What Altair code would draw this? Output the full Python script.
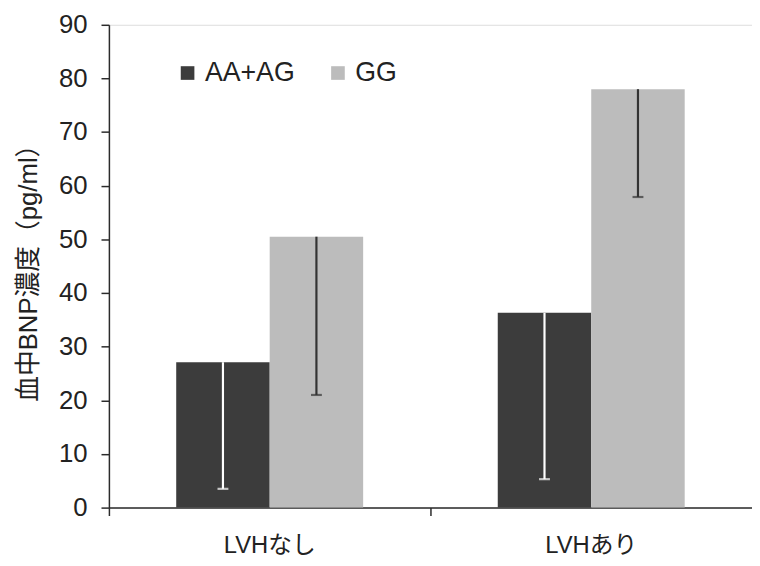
import altair as alt
import pandas as pd

categories = ["LVHなし", "LVHあり"]
groups = ["AA+AG", "GG"]
mean_aa_ag = [27.1, 36.3]
mean_gg = [50.5, 78.0]
lower_aa_ag = [3.5, 5.3]
lower_gg = [21.0, 57.9]

rows = []
for i, c in enumerate(categories):
    rows.append({"cat": c, "group": groups[0], "value": mean_aa_ag[i], "lower": lower_aa_ag[i]})
    rows.append({"cat": c, "group": groups[1], "value": mean_gg[i], "lower": lower_gg[i]})
df = pd.DataFrame(rows)

FONT = "Liberation Sans, Arial, Noto Sans CJK JP"
AXIS_COLOR = "#2b2b2b"

x = alt.X(
    "cat:N",
    sort=categories,
    title=None,
    scale=alt.Scale(paddingInner=0, paddingOuter=0),
    axis=alt.Axis(
        labelAngle=0, labelFontSize=24, labelColor="#222222", labelFont=FONT,
        tickSize=8, tickColor=AXIS_COLOR, domainColor=AXIS_COLOR, tickWidth=1.5,
        domainWidth=1.5, bandPosition=0, labelPadding=18,
    ),
)
xoff = alt.XOffset("group:N", sort=groups,
                   scale=alt.Scale(paddingInner=0, paddingOuter=0.72))

bars = alt.Chart(df).mark_bar(stroke=None).encode(
    x=x,
    xOffset=xoff,
    y=alt.Y(
        "value:Q",
        title="血中BNP濃度（pg/ml）",
        scale=alt.Scale(domain=[0, 90], nice=False),
        axis=alt.Axis(
            values=list(range(0, 91, 10)), grid=False, labelFontSize=26,
            labelColor="#222222", labelFont=FONT, tickSize=8, tickColor=AXIS_COLOR,
            domainColor=AXIS_COLOR, tickWidth=1.5, domainWidth=1.5, labelPadding=14,
            titleFontSize=26, titleFontWeight="normal", titleFont=FONT,
            titleColor="#222222", titlePadding=17,
        ),
    ),
    color=alt.Color(
        "group:N",
        sort=groups,
        scale=alt.Scale(domain=groups, range=["#3c3c3c", "#bcbcbc"]),
        legend=alt.Legend(
            title=None, orient="none", direction="horizontal", legendX=66, legendY=35,
            symbolType="square", symbolSize=190, symbolStrokeWidth=0,
            labelFontSize=27, labelFont=FONT, labelColor="#222222",
            labelOffset=4, columnPadding=30, symbolOpacity=1,
        ),
    ),
)

err_color = alt.condition(alt.datum.group == "AA+AG", alt.value("#ffffff"), alt.value("#333333"))

rules = alt.Chart(df).mark_rule(strokeWidth=2.2).encode(
    x=x, xOffset=xoff, y="value:Q", y2="lower:Q", color=err_color
)
caps = alt.Chart(df).mark_tick(orient="horizontal", size=11, thickness=2.2).encode(
    x=x, xOffset=xoff, y="lower:Q", color=err_color
)

chart = alt.layer(bars, rules, caps).properties(
    width=650, height=488,
    autosize=alt.AutoSizeParams(type="none"),
    padding={"left": 102, "top": 14, "right": 0, "bottom": 52},
).configure_view(stroke=None).configure(background="white")

chart.save("out.html", embed_options={"renderer": "svg", "actions": False})
